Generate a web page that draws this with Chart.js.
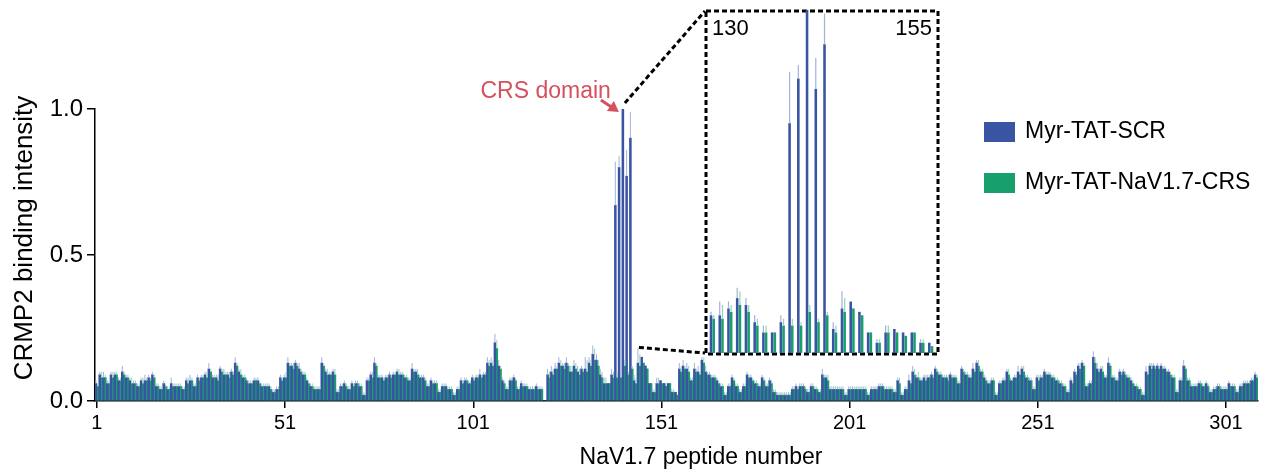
<!DOCTYPE html>
<html>
<head>
<meta charset="utf-8">
<script src="https://cdn.jsdelivr.net/npm/chart.js@4.4.1/dist/chart.umd.min.js"></script>
<style>
  html, body { margin: 0; padding: 0; background: #fff; }
  #wrap { position: relative; width: 1266px; height: 473px; }
  #main { position: absolute; left: 0; top: 0; width: 1266px; height: 473px; }
  #inset { position: absolute; left: 706px; top: 10px; width: 232px; height: 345px; }
</style>
</head>
<body>
<div id="wrap">
  <canvas id="main" width="1266" height="473"></canvas>
  <canvas id="inset" width="232" height="345"></canvas>
</div>
<script>
// peptide numbers 1..309 on the x axis, only some of them get a label
const peptideNumbers = Array.from({ length: 309 }, (_, i) => String(i + 1));
const xTickLabels = ['1', '51', '101', '151', '201', '251', '301'];
const insetRange = ['130', '155'];

// Myr-TAT-SCR
const scrValues = [
  0.06,0.09,0.08,0.06,0.09,0.09,0.07,0.10,0.08,0.07,
  0.06,0.05,0.07,0.07,0.08,0.09,0.05,0.04,0.06,0.04,
  0.06,0.05,0.05,0.04,0.07,0.07,0.05,0.08,0.08,0.09,
  0.11,0.08,0.08,0.11,0.09,0.09,0.10,0.13,0.10,0.08,
  0.07,0.06,0.07,0.07,0.05,0.05,0.05,0.03,0.04,0.08,
  0.08,0.13,0.12,0.13,0.11,0.09,0.07,0.05,0.04,0.04,
  0.13,0.10,0.09,0.10,0.03,0.05,0.06,0.04,0.06,0.06,
  0.05,0.02,0.07,0.09,0.13,0.08,0.08,0.08,0.09,0.09,
  0.10,0.09,0.08,0.07,0.11,0.10,0.08,0.08,0.05,0.07,
  0.06,0.03,0.05,0.05,0.04,0.02,0.04,0.07,0.07,0.06,
  0.08,0.08,0.09,0.09,0.13,0.13,0.20,0.12,0.07,0.04,
  0.07,0.08,0.04,0.06,0.05,0.04,0.04,0.05,0.04,0.00,
  0.09,0.10,0.11,0.13,0.12,0.13,0.10,0.12,0.10,0.11,
  0.11,0.13,0.16,0.14,0.09,0.06,0.06,0.09,0.67,0.80,
  1.00,0.77,0.90,0.07,0.13,0.15,0.12,0.06,0.03,0.06,
  0.07,0.06,0.06,0.03,0.03,0.11,0.12,0.11,0.07,0.11,
  0.10,0.14,0.10,0.09,0.08,0.07,0.05,0.02,0.05,0.08,
  0.05,0.03,0.05,0.09,0.08,0.06,0.05,0.08,0.05,0.07,
  0.03,0.02,0.02,0.02,0.02,0.04,0.05,0.05,0.05,0.03,
  0.05,0.04,0.03,0.09,0.08,0.04,0.04,0.04,0.04,0.02,
  0.04,0.04,0.04,0.04,0.04,0.02,0.04,0.04,0.05,0.05,
  0.04,0.04,0.03,0.07,0.02,0.04,0.07,0.10,0.08,0.07,
  0.08,0.08,0.09,0.11,0.09,0.08,0.08,0.09,0.08,0.06,
  0.11,0.09,0.08,0.11,0.13,0.10,0.08,0.06,0.07,0.02,
  0.06,0.07,0.10,0.07,0.08,0.10,0.11,0.08,0.07,0.04,
  0.08,0.08,0.10,0.09,0.08,0.07,0.06,0.05,0.03,0.07,
  0.10,0.12,0.13,0.05,0.06,0.15,0.11,0.11,0.08,0.13,
  0.08,0.07,0.10,0.10,0.08,0.07,0.05,0.04,0.02,0.10,
  0.12,0.12,0.12,0.12,0.11,0.10,0.08,0.03,0.07,0.12,
  0.07,0.05,0.05,0.06,0.05,0.06,0.03,0.04,0.05,0.04,
  0.04,0.06,0.05,0.03,0.05,0.06,0.06,0.07,0.09
];
const scrErrors = [
  0.01,0.01,0.02,0.01,0.01,0.01,0.01,0.02,0.01,0.01,
  0.01,0.01,0.01,0.02,0.01,0.01,0.01,0.01,0.01,0.01,
  0.02,0.01,0.01,0.01,0.01,0.02,0.01,0.01,0.01,0.01,
  0.02,0.01,0.01,0.01,0.02,0.01,0.01,0.02,0.01,0.01,
  0.01,0.01,0.01,0.01,0.01,0.01,0.01,0.01,0.01,0.01,
  0.01,0.02,0.01,0.01,0.02,0.01,0.01,0.01,0.01,0.01,
  0.02,0.01,0.01,0.01,0.01,0.01,0.01,0.01,0.01,0.01,
  0.01,0.01,0.01,0.01,0.02,0.01,0.01,0.01,0.01,0.01,
  0.01,0.01,0.01,0.01,0.02,0.01,0.01,0.01,0.01,0.01,
  0.01,0.01,0.01,0.01,0.01,0.01,0.01,0.01,0.01,0.01,
  0.01,0.01,0.02,0.01,0.02,0.02,0.03,0.02,0.01,0.01,
  0.01,0.01,0.01,0.01,0.01,0.01,0.01,0.01,0.01,0.00,
  0.02,0.02,0.02,0.02,0.01,0.02,0.02,0.02,0.02,0.01,
  0.04,0.02,0.03,0.02,0.02,0.02,0.00,0.02,0.15,0.04,
  0.00,0.09,0.09,0.02,0.05,0.00,0.00,0.00,0.01,0.02,
  0.00,0.00,0.00,0.01,0.00,0.02,0.02,0.02,0.01,0.02,
  0.02,0.01,0.02,0.01,0.01,0.01,0.01,0.01,0.01,0.01,
  0.01,0.01,0.01,0.01,0.01,0.01,0.01,0.01,0.01,0.01,
  0.01,0.01,0.01,0.01,0.01,0.01,0.01,0.01,0.01,0.01,
  0.01,0.01,0.01,0.02,0.01,0.01,0.01,0.01,0.01,0.01,
  0.01,0.01,0.01,0.01,0.01,0.01,0.01,0.01,0.01,0.01,
  0.01,0.01,0.01,0.01,0.01,0.01,0.02,0.02,0.01,0.01,
  0.01,0.01,0.01,0.01,0.01,0.01,0.01,0.01,0.01,0.01,
  0.01,0.01,0.01,0.02,0.01,0.01,0.01,0.01,0.01,0.01,
  0.01,0.01,0.01,0.01,0.01,0.02,0.01,0.01,0.01,0.01,
  0.01,0.01,0.01,0.01,0.01,0.01,0.01,0.01,0.01,0.01,
  0.01,0.01,0.01,0.01,0.01,0.02,0.02,0.01,0.01,0.02,
  0.01,0.01,0.01,0.01,0.01,0.01,0.01,0.01,0.01,0.02,
  0.01,0.01,0.01,0.01,0.01,0.01,0.01,0.01,0.01,0.02,
  0.01,0.01,0.01,0.01,0.01,0.01,0.01,0.01,0.01,0.01,
  0.01,0.01,0.01,0.01,0.01,0.01,0.01,0.01,0.01
];

// Myr-TAT-NaV1.7-CRS
const crsValues = [
  0.05,0.08,0.08,0.06,0.08,0.09,0.07,0.09,0.08,0.06,
  0.06,0.05,0.06,0.07,0.07,0.08,0.05,0.04,0.05,0.04,
  0.05,0.05,0.05,0.04,0.06,0.07,0.05,0.07,0.08,0.08,
  0.10,0.08,0.07,0.10,0.09,0.08,0.09,0.12,0.09,0.08,
  0.06,0.06,0.07,0.06,0.05,0.05,0.04,0.03,0.04,0.07,
  0.08,0.12,0.11,0.12,0.10,0.09,0.06,0.05,0.04,0.04,
  0.12,0.09,0.09,0.09,0.03,0.05,0.05,0.04,0.05,0.06,
  0.05,0.02,0.07,0.08,0.12,0.08,0.07,0.08,0.08,0.09,
  0.09,0.09,0.08,0.07,0.10,0.09,0.08,0.07,0.05,0.06,
  0.06,0.03,0.05,0.04,0.04,0.02,0.04,0.06,0.07,0.06,
  0.07,0.08,0.08,0.09,0.12,0.12,0.18,0.11,0.06,0.04,
  0.07,0.07,0.04,0.05,0.05,0.04,0.04,0.04,0.04,0.00,
  0.08,0.09,0.11,0.12,0.11,0.12,0.10,0.11,0.09,0.10,
  0.10,0.12,0.14,0.12,0.08,0.06,0.06,0.08,0.08,0.08,
  0.12,0.09,0.11,0.06,0.12,0.13,0.11,0.06,0.03,0.06,
  0.06,0.05,0.06,0.03,0.02,0.10,0.11,0.10,0.07,0.10,
  0.09,0.13,0.09,0.08,0.08,0.06,0.05,0.02,0.05,0.07,
  0.05,0.03,0.05,0.08,0.07,0.06,0.05,0.07,0.05,0.06,
  0.03,0.02,0.02,0.02,0.02,0.04,0.04,0.05,0.04,0.03,
  0.05,0.04,0.03,0.08,0.07,0.04,0.04,0.04,0.04,0.02,
  0.04,0.04,0.04,0.04,0.04,0.02,0.04,0.04,0.05,0.04,
  0.04,0.04,0.03,0.06,0.02,0.04,0.06,0.09,0.08,0.07,
  0.07,0.08,0.08,0.10,0.09,0.08,0.07,0.08,0.08,0.06,
  0.10,0.09,0.08,0.10,0.12,0.10,0.07,0.06,0.07,0.02,
  0.06,0.07,0.09,0.07,0.08,0.09,0.10,0.08,0.07,0.04,
  0.07,0.08,0.09,0.09,0.08,0.07,0.06,0.05,0.03,0.06,
  0.09,0.11,0.12,0.05,0.06,0.13,0.10,0.10,0.08,0.12,
  0.08,0.07,0.09,0.09,0.08,0.06,0.05,0.04,0.02,0.09,
  0.11,0.11,0.11,0.11,0.10,0.09,0.08,0.03,0.07,0.11,
  0.07,0.05,0.05,0.06,0.05,0.05,0.03,0.04,0.05,0.04,
  0.04,0.05,0.05,0.03,0.05,0.06,0.06,0.07,0.08
];
const crsErrors = [
  0.01,0.02,0.01,0.01,0.02,0.01,0.01,0.01,0.01,0.02,
  0.01,0.01,0.02,0.01,0.01,0.01,0.01,0.01,0.01,0.01,
  0.01,0.01,0.01,0.01,0.02,0.01,0.01,0.01,0.01,0.02,
  0.01,0.01,0.02,0.01,0.01,0.02,0.01,0.01,0.02,0.01,
  0.01,0.01,0.01,0.01,0.01,0.01,0.01,0.01,0.01,0.01,
  0.02,0.01,0.02,0.01,0.01,0.01,0.01,0.01,0.01,0.01,
  0.01,0.02,0.01,0.02,0.01,0.01,0.01,0.01,0.01,0.01,
  0.01,0.01,0.01,0.02,0.01,0.01,0.01,0.01,0.01,0.01,
  0.02,0.01,0.01,0.01,0.01,0.02,0.01,0.01,0.01,0.01,
  0.01,0.01,0.01,0.01,0.01,0.01,0.01,0.01,0.01,0.01,
  0.01,0.01,0.01,0.01,0.02,0.02,0.03,0.01,0.01,0.01,
  0.01,0.01,0.01,0.01,0.01,0.01,0.01,0.01,0.01,0.00,
  0.02,0.02,0.01,0.02,0.02,0.01,0.02,0.02,0.02,0.01,
  0.04,0.02,0.04,0.02,0.02,0.02,0.00,0.02,0.02,0.01,
  0.02,0.01,0.01,0.02,0.04,0.00,0.00,0.00,0.01,0.02,
  0.00,0.00,0.00,0.01,0.00,0.02,0.01,0.02,0.01,0.01,
  0.01,0.02,0.01,0.01,0.01,0.01,0.01,0.01,0.01,0.01,
  0.01,0.01,0.01,0.01,0.01,0.01,0.01,0.01,0.01,0.01,
  0.01,0.01,0.01,0.01,0.01,0.01,0.01,0.01,0.01,0.01,
  0.01,0.01,0.01,0.01,0.02,0.01,0.01,0.01,0.01,0.01,
  0.01,0.01,0.01,0.01,0.01,0.01,0.01,0.01,0.01,0.01,
  0.01,0.01,0.01,0.02,0.01,0.01,0.01,0.02,0.02,0.01,
  0.02,0.01,0.01,0.01,0.01,0.01,0.02,0.01,0.01,0.01,
  0.01,0.01,0.01,0.01,0.02,0.01,0.01,0.01,0.01,0.01,
  0.01,0.01,0.02,0.01,0.01,0.01,0.02,0.01,0.01,0.01,
  0.02,0.01,0.01,0.01,0.01,0.01,0.01,0.01,0.01,0.01,
  0.01,0.02,0.01,0.01,0.01,0.02,0.01,0.02,0.01,0.01,
  0.01,0.01,0.01,0.01,0.01,0.01,0.01,0.01,0.01,0.01,
  0.02,0.01,0.01,0.01,0.01,0.01,0.01,0.01,0.01,0.01,
  0.01,0.01,0.01,0.01,0.01,0.01,0.01,0.01,0.01,0.01,
  0.01,0.01,0.01,0.01,0.01,0.01,0.01,0.01,0.01
];

const BLUE = '#3a54a4';
const BLUE_LIGHT = '#a3b1dc';
const GREEN = '#17a06c';
const GREEN_LIGHT = '#93d4b8';
const RED = '#d4515d';
const FONT = '"Liberation Sans", Arial, sans-serif';

// light error bar above each bar
const errorBars = {
    id: 'errorBars',
    afterDatasetsDraw(chart) {
        const ctx = chart.ctx;
        const yScale = chart.scales.y;
        chart.data.datasets.forEach((ds, di) => {
            const meta = chart.getDatasetMeta(di);
            ctx.save();
            ctx.strokeStyle = ds.errorColor;
            ctx.lineWidth = ds.errorWidth;
            ctx.beginPath();
            meta.data.forEach((bar, i) => {
                const err = ds.errors[i];
                if (!err) return;
                const top = yScale.getPixelForValue(Math.min(ds.data[i] + err, yScale.max));
                ctx.moveTo(bar.x, bar.y);
                ctx.lineTo(bar.x, top);
            });
            ctx.stroke();
            ctx.restore();
        });
    }
};

// legend, axis titles, CRS arrow, zoom box and its connectors
const decorations = {
    id: 'decorations',
    afterDraw(chart) {
        const ctx = chart.ctx;
        ctx.save();

        chart.data.datasets.forEach((ds, i) => {
            const y = 122 + i * 51;
            ctx.fillStyle = ds.backgroundColor;
            ctx.fillRect(984, y, 31, 20);
            ctx.fillStyle = '#000';
            ctx.font = '23px ' + FONT;
            ctx.textBaseline = 'middle';
            ctx.textAlign = 'left';
            ctx.fillText(ds.label, 1025, y + 10);
        });

        ctx.font = '23px ' + FONT;
        ctx.textAlign = 'center';
        ctx.fillStyle = '#000';
        ctx.fillText('NaV1.7 peptide number', 701, 458);

        ctx.save();
        ctx.translate(25, 238);
        ctx.rotate(-Math.PI / 2);
        ctx.font = '26px ' + FONT;
        ctx.fillText('CRMP2 binding intensity', 0, 0);
        ctx.restore();

        const meta = chart.getDatasetMeta(0);
        const peak = meta.data[140];
        const tx = peak.x - 4, ty = peak.y + 3;
        ctx.strokeStyle = RED;
        ctx.fillStyle = RED;
        ctx.lineWidth = 3;
        ctx.beginPath();
        ctx.moveTo(tx - 18, ty - 12);
        ctx.lineTo(tx - 6, ty - 4);
        ctx.stroke();
        ctx.beginPath();
        ctx.moveTo(tx, ty);
        ctx.lineTo(tx - 12, ty - 1);
        ctx.lineTo(tx - 5, ty - 11);
        ctx.closePath();
        ctx.fill();
        ctx.font = '23px ' + FONT;
        ctx.textAlign = 'right';
        ctx.fillText('CRS domain', tx - 8, ty - 20);

        ctx.strokeStyle = '#000';
        ctx.lineWidth = 3;
        ctx.setLineDash([5, 3]);
        ctx.strokeRect(706, 11, 232, 343);
        const after = meta.data[144];
        const yScale = chart.scales.y;
        ctx.beginPath();
        ctx.moveTo(peak.x + 2, peak.y - 6);
        ctx.lineTo(705, 11);
        ctx.moveTo(after.x + 1, yScale.getPixelForValue(scrValues[144] + scrErrors[144]) - 1);
        ctx.lineTo(705, 353);
        ctx.stroke();
        ctx.restore();
    }
};

const mainChart = new Chart(document.getElementById('main'), {
    type: 'bar',
    data: {
        labels: peptideNumbers,
        datasets: [
            { label: 'Myr-TAT-SCR', data: scrValues, errors: scrErrors, backgroundColor: BLUE,
              errorColor: BLUE_LIGHT, errorWidth: 1, borderWidth: 0, categoryPercentage: 1, barPercentage: 1 },
            { label: 'Myr-TAT-NaV1.7-CRS', data: crsValues, errors: crsErrors, backgroundColor: GREEN,
              errorColor: GREEN_LIGHT, errorWidth: 1, borderWidth: 0, categoryPercentage: 1, barPercentage: 1 }
        ]
    },
    options: {
        responsive: false,
        animation: false,
        layout: { padding: { left: 0, right: 8, top: 109, bottom: 0 } },
        plugins: { legend: { display: false }, tooltip: { enabled: false } },
        scales: {
            x: {
                offset: true,
                grid: { offset: false, drawOnChartArea: false, tickLength: 7, color: '#000', lineWidth: 1.5 },
                border: { color: '#000', width: 1.5 },
                ticks: {
                    autoSkip: false, maxRotation: 0, color: '#000', padding: 3,
                    font: { family: FONT, size: 20 },
                    callback: function (value) {
                        const lab = this.getLabelForValue(value);
                        return xTickLabels.includes(lab) ? lab : null;
                    }
                },
                afterFit: scale => { scale.height = 72; }
            },
            y: {
                min: 0, max: 1,
                grid: { drawOnChartArea: false, tickLength: 8, color: '#000', lineWidth: 1.5 },
                border: { color: '#000', width: 1.5 },
                ticks: { stepSize: 0.5, color: '#000', padding: 4, font: { family: FONT, size: 24 },
                         callback: v => v.toFixed(1) },
                afterFit: scale => { scale.width = 95; }
            }
        }
    },
    plugins: [errorBars, decorations]
});

// zoomed view of peptides 130-155
const from = peptideNumbers.indexOf(insetRange[0]);
const to = peptideNumbers.indexOf(insetRange[1]) + 1;

const insetLabels = {
    id: 'insetLabels',
    afterDraw(chart) {
        const ctx = chart.ctx;
        const labels = chart.data.labels;
        ctx.save();
        ctx.fillStyle = '#000';
        ctx.font = '22px ' + FONT;
        ctx.textBaseline = 'alphabetic';
        ctx.textAlign = 'left';
        ctx.fillText(labels[0], 6, 25);
        ctx.textAlign = 'right';
        ctx.fillText(labels[labels.length - 1], 226, 25);
        ctx.restore();
    }
};

const insetChart = new Chart(document.getElementById('inset'), {
    type: 'bar',
    data: {
        labels: peptideNumbers.slice(from, to),
        datasets: [
            { label: 'Myr-TAT-SCR', data: scrValues.slice(from, to), errors: scrErrors.slice(from, to),
              backgroundColor: BLUE, errorColor: BLUE_LIGHT, errorWidth: 1.2, borderWidth: 0,
              categoryPercentage: 0.62, barPercentage: 0.95 },
            { label: 'Myr-TAT-NaV1.7-CRS', data: crsValues.slice(from, to), errors: crsErrors.slice(from, to),
              backgroundColor: GREEN, errorColor: GREEN_LIGHT, errorWidth: 1.2, borderWidth: 0,
              categoryPercentage: 0.62, barPercentage: 0.95 }
        ]
    },
    options: {
        responsive: false,
        animation: false,
        layout: { padding: { left: 2, right: 3, top: 0, bottom: 2 } },
        plugins: { legend: { display: false }, tooltip: { enabled: false } },
        scales: {
            x: { display: false, offset: true },
            y: { display: false, min: 0, max: 1 }
        }
    },
    plugins: [errorBars, insetLabels]
});
</script>
</body>
</html>
